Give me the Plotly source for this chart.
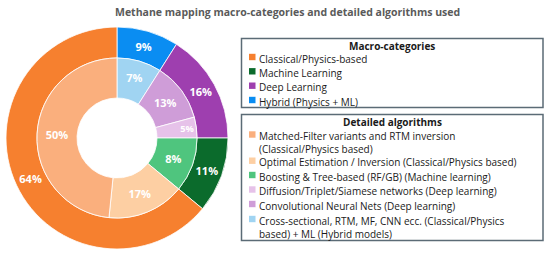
import plotly.graph_objects as go

W, H = 550, 256

# ---- data ----
outer_labels = ["Classical/Physics-based", "Machine Learning", "Deep Learning", "Hybrid (Physics + ML)"]
outer_values = [64, 11, 16, 9]
outer_text = ["64%", "11%", "16%", "9%"]
outer_colors = ["#F6802F", "#0B6B2C", "#9E3FAF", "#0A8DF2"]

inner_labels = [
    "Matched-Filter variants and RTM inversion<br>(Classical/Physics based)",
    "Optimal Estimation / Inversion (Classical/Physics based)",
    "Boosting & Tree-based (RF/GB) (Machine learning)",
    "Diffusion/Triplet/Siamese networks (Deep learning)",
    "Convolutional Neural Nets (Deep learning)",
    "Cross-sectional, RTM, MF, CNN ecc. (Classical/Physics<br>based) + ML (Hybrid models)",
]
inner_values = [48.4, 15.6, 11, 4.2, 11.8, 9]          # angular share as drawn
inner_text = ["50%", "17%", "8%", "5%", "13%", "7%"]  # printed labels
inner_colors = ["#FAAF7D", "#FDCFA3", "#4FC57E", "#E6C2E9", "#CF9DD8", "#A0D4F2"]

FONT = "Open Sans"

def px(x):
    return x / W

def py(y):
    return 1 - y / H

cx, cy = 117, 138
r_out, r_mid, r_hole = 111, 80, 40

def rev(a):
    return list(a)[::-1]

fig = go.Figure()
# slices listed in reverse, drawn clockwise from 12 o'clock
# -> legend order runs counter-clockwise from 12 o'clock
fig.add_trace(go.Pie(
    labels=rev(outer_labels), values=rev(outer_values), text=rev(outer_text), textinfo="text",
    sort=False, direction="clockwise", rotation=0,
    hole=r_mid / r_out,
    marker=dict(colors=rev(outer_colors), line=dict(color="rgba(255,255,255,0.8)", width=1)),
    textposition="inside", insidetextorientation="horizontal",
    textfont=dict(family=FONT, size=11, color="white", weight="bold"),
    domain=dict(x=[px(cx - r_out), px(cx + r_out)], y=[py(cy + r_out), py(cy - r_out)]),
    showlegend=False, hoverinfo="label+text",
))
fig.add_trace(go.Pie(
    labels=rev(inner_labels), values=rev(inner_values), text=rev(inner_text), textinfo="text",
    sort=False, direction="clockwise", rotation=0,
    hole=r_hole / r_mid,
    marker=dict(colors=rev(inner_colors), line=dict(color="rgba(255,255,255,0.8)", width=1)),
    textposition="inside", insidetextorientation="horizontal",
    textfont=dict(family=FONT, size=11, color="white", weight="bold"),
    domain=dict(x=[px(cx - r_mid), px(cx + r_mid)], y=[py(cy + r_mid), py(cy - r_mid)]),
    showlegend=False, hoverinfo="label+text",
))

shapes = []
annotations = []

# title
annotations.append(dict(
    x=px(287), y=py(12), xref="paper", yref="paper",
    text="<b>Methane mapping macro-categories and detailed algorithms used</b>",
    showarrow=False, font=dict(family=FONT, size=10.5, color="#5A5A5A"),
    xanchor="center", yanchor="middle", borderpad=0))

box_l, box_r = 241.5, 543
border = "#5B6B76"
TX = 257.5
LINE_H = 13  # 1.3 em at 10 px

def legend_box(top, bottom, title, title_y, labels, colors, ys):
    shapes.append(dict(type="rect", xref="paper", yref="paper",
                       x0=px(box_l), x1=px(box_r), y0=py(bottom), y1=py(top),
                       line=dict(color=border, width=1.5), fillcolor="white", layer="below"))
    annotations.append(dict(x=px((box_l + box_r) / 2), y=py(title_y), xref="paper", yref="paper",
                            text="<b>" + title + "</b>", showarrow=False,
                            font=dict(family=FONT, size=10, color="#1a1a1a"),
                            xanchor="center", yanchor="middle", borderpad=0))
    for lab, col, y in zip(labels, colors, ys):
        shapes.append(dict(type="rect", xref="paper", yref="paper",
                           x0=px(249), x1=px(255.5), y0=py(y + 3.2), y1=py(y - 3.2),
                           line=dict(width=0), fillcolor=col))
        annotations.append(dict(x=px(TX), y=py(y - LINE_H / 2), xref="paper", yref="paper",
                                text=lab, showarrow=False, align="left",
                                font=dict(family=FONT, size=10, color="#1a1a1a"),
                                xanchor="left", yanchor="top", borderpad=0))

legend_box(38.5, 107.5, "Macro-categories", 46, outer_labels, outer_colors, [57, 71.3, 85.7, 100])
legend_box(114.5, 240.5, "Detailed algorithms", 122.3, inner_labels, inner_colors,
           [134.5, 160.7, 175, 189.5, 204, 219])

fig.update_layout(
    width=W, height=H, margin=dict(l=0, r=0, t=0, b=0),
    paper_bgcolor="white", plot_bgcolor="white",
    shapes=shapes, annotations=annotations,
    showlegend=False,
)

# remove the browser's default 8px body margin so the figure fills the window
fig.write_html("out.html", config={"displayModeBar": False},
               post_script="document.body.style.margin='0';")
